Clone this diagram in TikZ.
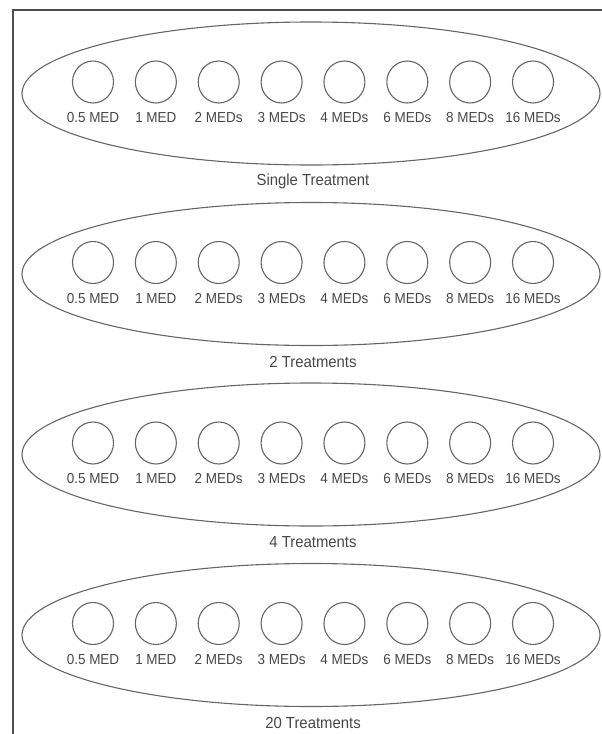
\documentclass[tikz,border=0pt]{standalone}
\usepackage{fontspec}
\setmainfont[FakeStretch=0.93]{Liberation Sans}
\usetikzlibrary{shapes.geometric}
\tikzset{
 frame/.style={line width=2.2pt, draw=black!70},
 plate/.style={draw=black!60, line width=1.1pt, ellipse, minimum width=578pt, minimum height=143pt, inner sep=0pt},
 well/.style={draw=black!60, line width=1.1pt, ellipse, minimum width=41pt, minimum height=42pt, inner sep=0pt},
 dose/.style={font=\fontsize{14.5}{16}\selectfont, text=black!72, inner sep=0pt},
 ttl/.style={font=\fontsize{16}{18}\selectfont, text=black!72, inner sep=0pt},
}
\begin{document}
\begin{tikzpicture}[x=1pt,y=-1pt]
\useasboundingbox (0,0) rectangle (602,734);
\coordinate (fBL) at (13,734);
\coordinate (fTL) at (13,10);
\coordinate (fTR) at (602,10);
\draw[frame] (fBL) -- (fTL) -- (fTR);
\foreach \g/\off/\ttext in {1/0/Single Treatment, 2/180.5/2 Treatments, 3/361/4 Treatments, 4/541.5/20 Treatments} {
  \node[plate] (p\g) at (311, 93.5+\off) {};
  \foreach \d [count=\i from 0] in {0.5 MED, 1 MED, 2 MEDs, 3 MEDs, 4 MEDs, 6 MEDs, 8 MEDs, 16 MEDs} {
    \node[well] (w\g-\i) at (93+62.86*\i, 82+\off) {};
    \node[dose] (d\g-\i) at (93+62.86*\i, 118+\off) {\d};
  }
  \node[ttl] (t\g) at (313, 181+\off) {\ttext};
}
\end{tikzpicture}
\end{document}
